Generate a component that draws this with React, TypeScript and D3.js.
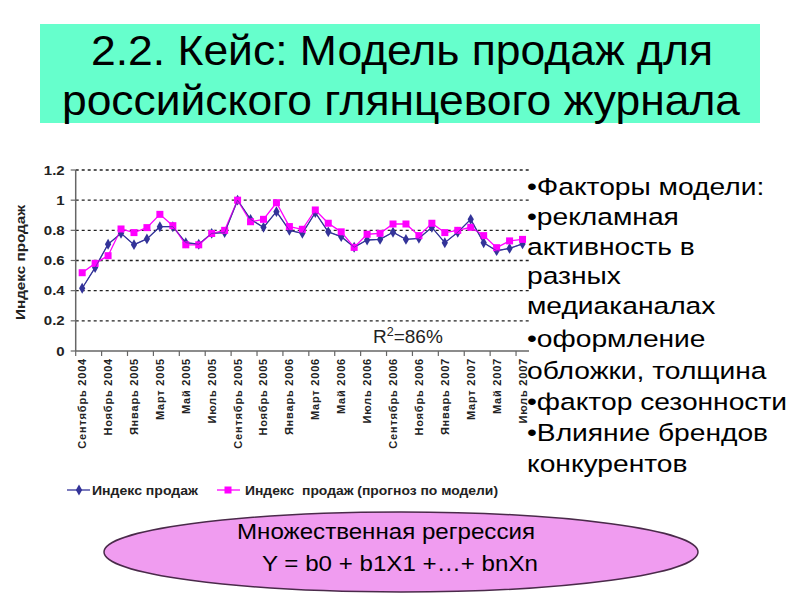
import React from "react";
import * as d3 from "d3";

const months = [
  "Сентябрь 2004","Октябрь 2004","Ноябрь 2004","Декабрь 2004",
  "Январь 2005","Февраль 2005","Март 2005","Апрель 2005","Май 2005","Июнь 2005","Июль 2005","Август 2005",
  "Сентябрь 2005","Октябрь 2005","Ноябрь 2005","Декабрь 2005",
  "Январь 2006","Февраль 2006","Март 2006","Апрель 2006","Май 2006","Июнь 2006","Июль 2006","Август 2006",
  "Сентябрь 2006","Октябрь 2006","Ноябрь 2006","Декабрь 2006",
  "Январь 2007","Февраль 2007","Март 2007","Апрель 2007","Май 2007","Июнь 2007","Июль 2007",
];
const actual = [
  0.416, 0.553, 0.708, 0.78, 0.705, 0.743, 0.824, 0.824, 0.718, 0.708, 0.78, 0.785,
  1.0, 0.873, 0.82, 0.924, 0.8, 0.78, 0.917, 0.79, 0.758, 0.688, 0.736, 0.74,
  0.787, 0.74, 0.747, 0.82, 0.718, 0.787, 0.873, 0.718, 0.665, 0.68, 0.71,
];
const forecast = [
  0.519, 0.581, 0.632, 0.809, 0.785, 0.818, 0.906, 0.831, 0.704, 0.704, 0.779, 0.8,
  1.0, 0.857, 0.873, 0.983, 0.825, 0.807, 0.935, 0.847, 0.79, 0.687, 0.774, 0.78,
  0.842, 0.842, 0.765, 0.847, 0.785, 0.8, 0.82, 0.765, 0.685, 0.73, 0.74,
];
const yTicks = [0, 0.2, 0.4, 0.6, 0.8, 1, 1.2];
const titleLines = ["2.2. Кейс: Модель продаж для", "российского глянцевого журнала"];
const factorLines = [
  "•Факторы модели:", "•рекламная", "активность в", "разных", "медиаканалах",
  "•оформление", "обложки, толщина", "•фактор сезонности", "•Влияние брендов", "конкурентов",
];
const factorBaselines = [195, 225, 255, 284, 314, 347, 379, 410, 441, 472];
const seriesNames = ["Индекс продаж", "Индекс  продаж (прогноз по модели)"];
const formulaLines = ["Множественная регрессия", "Y = b0 + b1X1 +…+ bnXn"];

const BLUE = "#333399";
const PINK = "#FF00FF";
const FONT = "'Liberation Sans', Arial, sans-serif";

export default function App() {
  const left = 75.7, right = 529, top = 170, bottom = 351;
  const x = d3.scaleBand<number>().domain(d3.range(months.length)).range([left, right]);
  const y = d3.scaleLinear().domain([0, 1.2]).range([bottom, top]);
  const cx = (i: number) => (x(i) as number) + x.bandwidth() / 2;
  const line = d3.line<number>().x((_, i) => cx(i)).y((d) => y(d));
  const diamond = d3.symbol().type(d3.symbolDiamond).size(34)() as string;
  const tickIdx = d3.range(0, months.length + 1, 2);

  return (
    <svg width={800} height={600} style={{ position: "absolute", left: 0, top: 0, background: "#fff" }}>
      <rect x={0} y={0} width={800} height={600} fill="#fff" />
      {/* Title */}
      <rect x={40} y={24} width={720} height={99} fill="#66FFCC" />
      <text x={91} y={65} fontFamily="'Liberation Sans Narrow', 'Arial Narrow', 'Liberation Sans', sans-serif"
        fontSize={43} textLength={622} lengthAdjust="spacingAndGlyphs" fill="#000">{titleLines[0]}</text>
      <text x={62} y={115} fontFamily="'Liberation Sans Narrow', 'Arial Narrow', 'Liberation Sans', sans-serif"
        fontSize={43} textLength={678} lengthAdjust="spacingAndGlyphs" fill="#000">{titleLines[1]}</text>

      {/* Gridlines */}
      {yTicks.filter((t) => t > 0).map((t) => (
        <line key={"g" + t} x1={left} x2={right} y1={y(t)} y2={y(t)} stroke="#222" strokeWidth={1.4} strokeDasharray="3,3" />
      ))}
      {/* Y axis */}
      <line x1={left} x2={left} y1={top} y2={bottom} stroke="#666" strokeWidth={1.5} />
      {yTicks.map((t) => (
        <g key={"y" + t}>
          <line x1={left - 5} x2={left} y1={y(t)} y2={y(t)} stroke="#666" strokeWidth={1.2} />
          <text transform={`translate(${left - 11},${y(t) + 4.5}) scale(1.25,1)`} textAnchor="end" fontFamily={FONT}
            fontWeight="bold" fontSize={12} fill="#222">{t}</text>
        </g>
      ))}
      <text transform={`translate(25,${(top + bottom) / 2 + 2}) rotate(-90)`} textAnchor="middle" fontFamily={FONT}
        fontWeight="bold" fontSize={12} textLength={115} lengthAdjust="spacingAndGlyphs" fill="#222">Индекс продаж</text>
      {/* X axis */}
      <line x1={left} x2={right} y1={bottom} y2={bottom} stroke="#666" strokeWidth={1.5} />
      {tickIdx.map((i) => {
        const xx = i < months.length ? (x(i) as number) : right;
        return <line key={"t" + i} x1={xx} x2={xx} y1={bottom} y2={bottom + 5} stroke="#666" strokeWidth={1.2} />;
      })}
      {months.map((m, i) => i % 2 === 0 ? (
        <text key={"m" + i} transform={`translate(${cx(i) + 4},${bottom + 7}) rotate(-90)`} textAnchor="end"
          fontFamily={FONT} fontWeight="bold" fontSize={11} letterSpacing={0.8} fill="#222">{m}</text>
      ) : null)}

      {/* Series */}
      <path d={line(actual) as string} fill="none" stroke={BLUE} strokeWidth={1.3} />
      <path d={line(forecast) as string} fill="none" stroke={PINK} strokeWidth={1.3} />
      {actual.map((v, i) => (
        <path key={"a" + i} d={diamond} transform={`translate(${cx(i)},${y(v)})`} fill={BLUE} />
      ))}
      {forecast.map((v, i) => (
        <rect key={"f" + i} x={cx(i) - 3.5} y={y(v) - 3.5} width={7} height={7} fill={PINK} />
      ))}
      <path d={line(actual) as string} fill="none" stroke={BLUE} strokeWidth={1} opacity={0.6} />

      {/* R2 */}
      <text x={373} y={343} fontFamily={FONT} fontSize={19} fill="#222">
        R<tspan fontSize={12.5} dy={-7}>2</tspan><tspan dy={7}>=86%</tspan>
      </text>

      {/* Legend */}
      <line x1={67} x2={90} y1={490} y2={490} stroke={BLUE} strokeWidth={1.3} />
      <path d={diamond} transform="translate(79,490)" fill={BLUE} />
      <text x={92} y={494.5} fontFamily={FONT} fontWeight="bold" fontSize={12} textLength={106}
        lengthAdjust="spacingAndGlyphs" fill="#222">{seriesNames[0]}</text>
      <line x1={217} x2={240} y1={490} y2={490} stroke={PINK} strokeWidth={1.3} />
      <rect x={224.5} y={486.5} width={7} height={7} fill={PINK} />
      <text x={245} y={494.5} fontFamily={FONT} fontWeight="bold" fontSize={12} textLength={253}
        lengthAdjust="spacingAndGlyphs" fill="#222" xmlSpace="preserve">{seriesNames[1]}</text>

      {/* Factors */}
      {factorLines.map((l, i) => (
        <text key={"fl" + i} transform={`translate(527,${factorBaselines[i]}) scale(1.2,1)`} fontFamily={FONT}
          fontSize={23.5} fill="#000">{l}</text>
      ))}

      {/* Ellipse */}
      <ellipse cx={401} cy={552} rx={297} ry={40} fill="#F09CF0" stroke="#4a2a4a" strokeWidth={1.5} />
      <text x={237} y={539} fontFamily={FONT} fontSize={22} textLength={298} lengthAdjust="spacingAndGlyphs"
        fill="#000">{formulaLines[0]}</text>
      <text x={262} y={571} fontFamily={FONT} fontSize={22} textLength={276} lengthAdjust="spacingAndGlyphs"
        fill="#000">{formulaLines[1]}</text>
    </svg>
  );
}
